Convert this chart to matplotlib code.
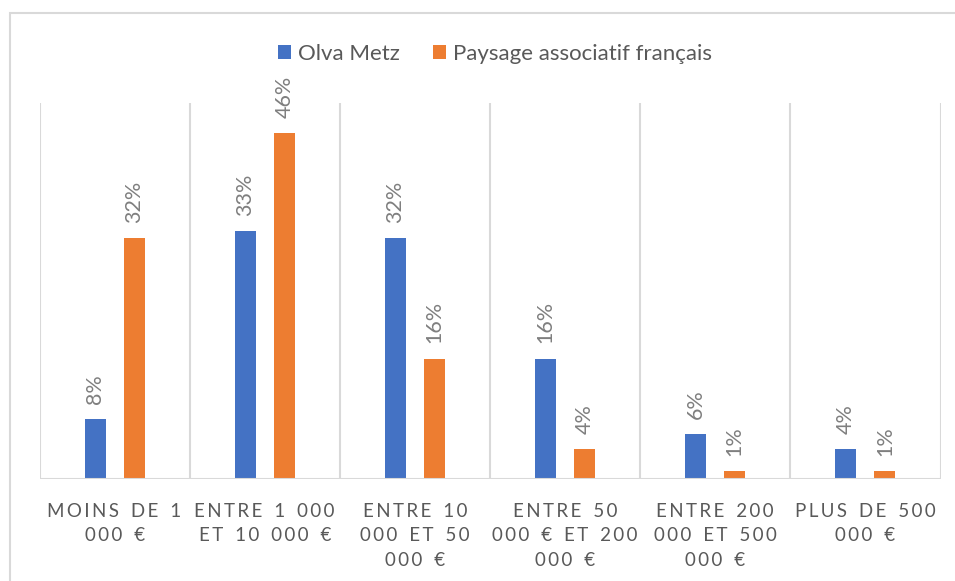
import numpy as np
import matplotlib.pyplot as plt
from matplotlib.patches import Rectangle

plt.rcParams['font.family'] = ['Lato', 'DejaVu Sans']

categories = ["MOINS DE 1\n000 €", "ENTRE 1 000\nET 10 000 €", "ENTRE 10\n000 ET 50\n000 €",
              "ENTRE 50\n000 € ET 200\n000 €", "ENTRE 200\n000 ET 500\n000 €", "PLUS DE 500\n000 €"]
olva_metz = [8, 33, 32, 16, 6, 4]
paysage = [32, 46, 16, 4, 1, 1]
series_names = ["Olva Metz", "Paysage associatif français"]
colors = ["#4472C4", "#ED7D31"]


def spaced(s):
    # imitate the letter spacing of the category labels
    lines = []
    for line in s.split("\n"):
        lines.append("\u2009".join(line.replace(" ", "\u2009\u2009")))
    return "\n".join(lines)


fig = plt.figure(figsize=(9.55, 5.81), dpi=100)
ax = fig.add_axes([39.5 / 955, 1 - 479 / 581, 901 / 955, 376 / 581])

# outer chart border
fig.patches.append(Rectangle((10 / 955, -0.1), 1.2, 1 - 13 / 581 + 0.1, transform=fig.transFigure,
                             fill=False, edgecolor="#D9D9D9", linewidth=1.5))

x = np.arange(len(categories))
w = 0.14
off = 0.13
b1 = ax.bar(x - off, olva_metz, w, color=colors[0], label=series_names[0])
b2 = ax.bar(x + off, paysage, w, color=colors[1], label=series_names[1])

for bars, vals in [(b1, olva_metz), (b2, paysage)]:
    for rect, v in zip(bars, vals):
        ax.annotate(f"{v}%", (rect.get_x() + rect.get_width() / 2, v), xytext=(0, 11),
                    textcoords="offset points", rotation=90, ha="center", va="bottom",
                    fontsize=15.5, color="#7F7F7F")

ax.set_xlim(-0.5, len(categories) - 0.5)
ax.set_ylim(0, 50)
for i in range(len(categories) + 1):
    ax.axvline(i - 0.5, color="#D9D9D9", linewidth=1.5, zorder=0)
for s in ax.spines.values():
    s.set_visible(False)
ax.axhline(0, color="#D9D9D9", linewidth=1.5, zorder=3)
ax.set_yticks([])
ax.set_xticks(x)
ax.set_xticklabels([spaced(c) for c in categories], fontsize=13.5, color="#595959", linespacing=1.55)
ax.tick_params(axis="x", length=0, pad=17)

fig.legend(loc="upper center", bbox_to_anchor=(495 / 955, 1 - 24 / 581), ncol=2, frameon=False,
           fontsize=16, labelcolor="#595959", handlelength=0.6, handleheight=0.6,
           handletextpad=0.3, columnspacing=1.5)

fig.savefig("out.png", dpi=100)
